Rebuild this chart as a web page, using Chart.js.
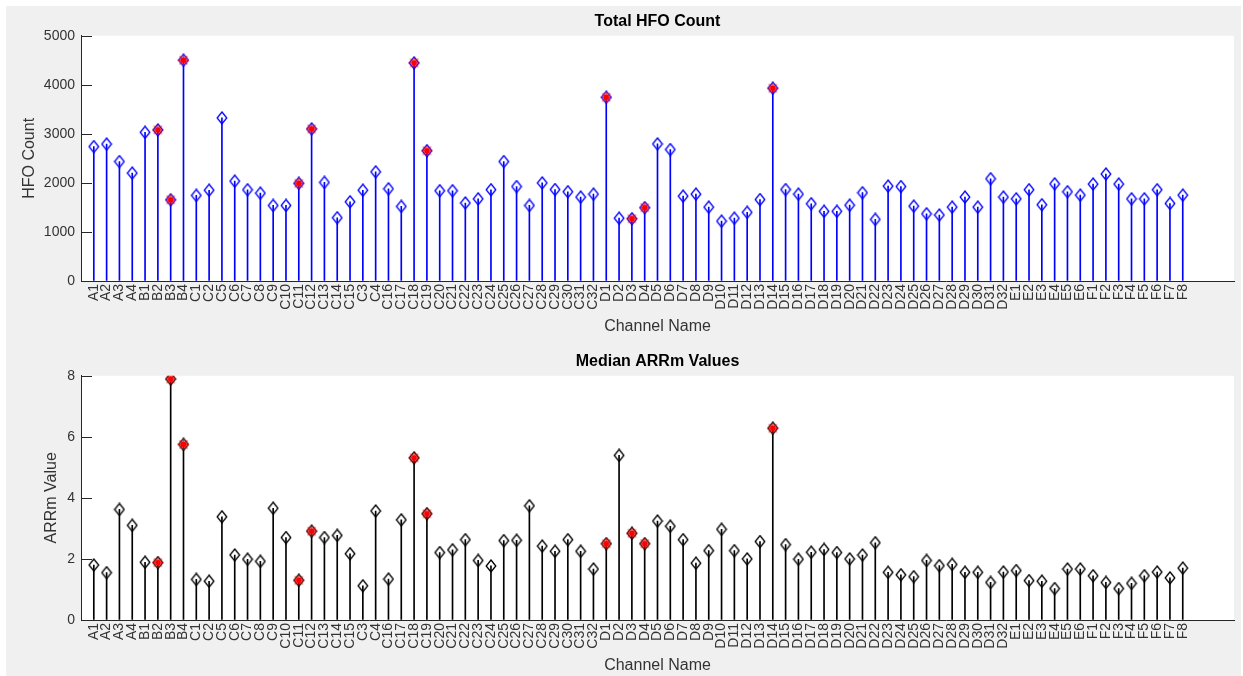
<!DOCTYPE html>
<html>
<head>
<meta charset="utf-8">
<script src="https://cdn.jsdelivr.net/npm/chart.js@4.4.1/dist/chart.umd.min.js"></script>
<style>
  html, body { margin: 0; padding: 0; background: #ffffff; }
  body { width: 1243px; height: 676px; position: relative; overflow: hidden; }
  #fig { position: absolute; left: 6px; top: 6px; width: 1235px; height: 670px; background: #f0f0f0; }
  canvas { position: absolute; left: 0; }
  #c1 { top: 0; }
  #c2 { top: 340px; }
</style>
</head>
<body>
<div id="fig"></div>
<canvas id="c1" width="1243" height="340"></canvas>
<canvas id="c2" width="1243" height="336"></canvas>
<script>
// ---------------- data ----------------
const channelsA = ["A1", "A2", "A3", "A4"];
const channelsB = ["B1", "B2", "B3", "B4"];
const channelsC = ["C1", "C2", "C5", "C6", "C7", "C8", "C9", "C10", "C11", "C12", "C13", "C14", "C15", "C3", "C4",
  "C16", "C17", "C18", "C19", "C20", "C21", "C22", "C23", "C24", "C25", "C26", "C27", "C28", "C29", "C30", "C31", "C32"];
const channelsD = ["D1", "D2", "D3", "D4", "D5", "D6", "D7", "D8", "D9", "D10", "D11", "D12", "D13", "D14", "D15", "D16",
  "D17", "D18", "D19", "D20", "D21", "D22", "D23", "D24", "D25", "D26", "D27", "D28", "D29", "D30", "D31", "D32"];
const channelsE = ["E1", "E2", "E3", "E4", "E5", "E6"];
const channelsF = ["F1", "F2", "F3", "F4", "F5", "F6", "F7", "F8"];
const channels = [...channelsA, ...channelsB, ...channelsC, ...channelsD, ...channelsE, ...channelsF];

const hfoCount = [
  2740, 2790, 2435, 2200,
  3030, 3080, 1655, 4500,
  1745, 1850, 3325, 2035, 1860, 1790, 1540, 1540, 1990, 3100, 2010, 1290, 1615, 1850, 2225,
  1880, 1520, 4445, 2655, 1840, 1840, 1590, 1675, 1860, 2435, 1925, 1540, 2000, 1865, 1820, 1710, 1770,
  3745, 1280, 1270, 1495, 2795, 2680, 1730, 1770, 1505, 1220, 1280, 1400, 1660, 3930, 1865, 1770,
  1575, 1420, 1420, 1545, 1800, 1255, 1935, 1925, 1525, 1370, 1345, 1505, 1710, 1505, 2085, 1710,
  1675, 1860, 1555, 1980, 1820, 1750,
  1975, 2180, 1975, 1675, 1675, 1860, 1580, 1750
];

const arrmMedian = [
  1.80, 1.55, 3.62, 3.10,
  1.89, 1.88, 7.89, 5.75,
  1.33, 1.27, 3.38, 2.13, 1.99, 1.92, 3.66, 2.70, 1.30, 2.91, 2.70, 2.77, 2.17, 1.12, 3.57,
  1.34, 3.28, 5.31, 3.48, 2.21, 2.30, 2.63, 1.95, 1.77, 2.60, 2.61, 3.74, 2.42, 2.25, 2.63, 2.25, 1.67,
  2.50, 5.39, 2.84, 2.50, 3.24, 3.07, 2.63, 1.86, 2.27, 2.97, 2.27, 2.00, 2.57, 6.28, 2.47, 1.99,
  2.22, 2.31, 2.21, 2.00, 2.13, 2.53, 1.56, 1.48, 1.42, 1.95, 1.78, 1.82, 1.56, 1.56, 1.23, 1.57,
  1.62, 1.29, 1.27, 1.03, 1.67, 1.67,
  1.45, 1.23, 1.03, 1.20, 1.45, 1.57, 1.38, 1.70
];

const flaggedChannels = ["B2", "B3", "B4", "C11", "C12", "C18", "C19", "D1", "D3", "D4", "D14"];

const hfoTicks = [0, 1000, 2000, 3000, 4000, 5000];
const arrmTicks = [0, 2, 4, 6, 8];

// ---------------- helpers ----------------
const FONT = "'Liberation Sans', Arial, Helvetica, sans-serif";
const AXIS_COLOR = '#262626';
const TEXT_COLOR = '#333333';

function diamondMarker(color) {
  const c = document.createElement('canvas');
  c.width = 12; c.height = 14;
  const g = c.getContext('2d');
  g.strokeStyle = color;
  g.lineWidth = 1.3;
  g.beginPath();
  g.moveTo(6, 1);
  g.lineTo(10.8, 7);
  g.lineTo(6, 13);
  g.lineTo(1.2, 7);
  g.closePath();
  g.stroke();
  return c;
}

function flagMarker() {
  const c = document.createElement('canvas');
  c.width = 15; c.height = 15;
  const g = c.getContext('2d');
  g.strokeStyle = 'rgba(255,0,0,0.7)';
  g.lineWidth = 1.4;
  const r = 5.6;
  g.beginPath();
  for (let k = 0; k < 4; k++) {
    const a = k * Math.PI / 4;
    g.moveTo(7.5 - r * Math.cos(a), 7.5 - r * Math.sin(a));
    g.lineTo(7.5 + r * Math.cos(a), 7.5 + r * Math.sin(a));
  }
  g.stroke();
  g.fillStyle = '#ff0000';
  g.beginPath();
  g.arc(7.5, 7.5, 3, 0, Math.PI * 2);
  g.fill();
  return c;
}

const plotBg = {
  id: 'plotBg',
  beforeDraw(chart) {
    const a = chart.chartArea, ctx = chart.ctx;
    ctx.save();
    ctx.fillStyle = '#ffffff';
    ctx.fillRect(a.left, a.top, a.right - a.left, a.bottom - a.top);
    ctx.restore();
  }
};

const inwardTicks = {
  id: 'inwardTicks',
  afterDatasetsDraw(chart) {
    const y = chart.scales.y, ctx = chart.ctx, a = chart.chartArea;
    ctx.save();
    ctx.strokeStyle = AXIS_COLOR;
    ctx.lineWidth = 1;
    y.ticks.forEach(t => {
      const py = Math.round(y.getPixelForValue(t.value)) + 0.5;
      ctx.beginPath();
      ctx.moveTo(a.left, py);
      ctx.lineTo(a.left + 11, py);
      ctx.stroke();
    });
    ctx.restore();
  }
};

function buildChart(canvasId, cfg) {
  const values = cfg.values;
  const points = values.map((v, i) => ({ x: i + 1, y: v }));
  const flagged = values.map((v, i) => flaggedChannels.includes(channels[i]) ? { x: i + 1, y: v } : null).filter(p => p);
  return new Chart(document.getElementById(canvasId), {
    type: 'scatter',
    data: {
      datasets: [
        { type: 'scatter', data: flagged, pointStyle: flagMarker(), pointRadius: 6, order: 0 },
        { type: 'scatter', data: points, pointStyle: diamondMarker(cfg.color), pointRadius: 6, order: 1 },
        { type: 'bar', data: points, backgroundColor: cfg.color, borderWidth: 0, barThickness: 1, order: 2 }
      ]
    },
    options: {
      responsive: false,
      animation: false,
      events: [],
      layout: { padding: { left: cfg.padLeft, right: 9, top: 0, bottom: cfg.padBottom } },
      plugins: {
        legend: { display: false },
        tooltip: { enabled: false },
        title: {
          display: true,
          text: cfg.title,
          fullSize: false,
          color: '#000000',
          font: { family: FONT, size: 16, weight: 'bold' },
          padding: { top: 12, bottom: 4.5 }
        }
      },
      scales: {
        x: {
          type: 'linear',
          min: 0,
          max: 90,
          offset: false,
          afterBuildTicks(s) { s.ticks = channels.map((c, i) => ({ value: i + 1 })); },
          afterFit(s) { s.height = 55; },
          grid: { display: true, drawOnChartArea: false, drawTicks: false, offset: false },
          border: { display: true, color: AXIS_COLOR, width: 1 },
          ticks: {
            autoSkip: false,
            minRotation: 90,
            maxRotation: 90,
            padding: 3,
            color: TEXT_COLOR,
            font: { family: FONT, size: 14 },
            callback: (v) => channels[Math.round(v) - 1] || ''
          },
          title: {
            display: true,
            text: 'Channel Name',
            color: TEXT_COLOR,
            font: { family: FONT, size: 16 },
            padding: 0
          }
        },
        y: {
          type: 'linear',
          min: cfg.yTicks[0],
          max: cfg.yTicks[cfg.yTicks.length - 1],
          afterBuildTicks(s) { s.ticks = cfg.yTicks.map(v => ({ value: v })); },
          afterFit(s) { s.width = cfg.yWidth; },
          grid: { display: true, drawOnChartArea: false, drawTicks: false },
          border: { display: true, color: AXIS_COLOR, width: 1 },
          ticks: {
            padding: 6,
            color: TEXT_COLOR,
            font: { family: FONT, size: 14 },
            callback: (v) => String(v)
          },
          title: {
            display: true,
            text: cfg.yTitle,
            color: TEXT_COLOR,
            font: { family: FONT, size: 16 },
            padding: 0
          }
        }
      }
    },
    plugins: [plotBg, inwardTicks]
  });
}

buildChart('c1', {
  values: hfoCount, color: '#0000ff', title: 'Total HFO Count', yTitle: 'HFO Count',
  yTicks: hfoTicks, padLeft: 20, yWidth: 61, padBottom: 4
});
buildChart('c2', {
  values: arrmMedian, color: '#000000', title: 'Median ARRm Values', yTitle: 'ARRm Value',
  yTicks: arrmTicks, padLeft: 42, yWidth: 39, padBottom: 1
});
</script>
</body>
</html>
